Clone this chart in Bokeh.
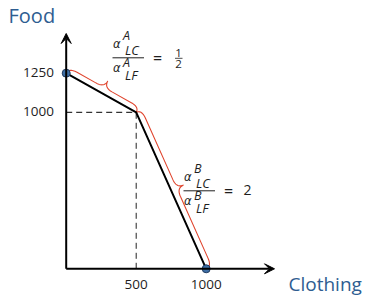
import numpy as np
from bokeh.plotting import figure
from bokeh.models import Range1d, Arrow, VeeHead, Label
from bokeh.embed import file_html
from bokeh.resources import INLINE

# ---------------- data ----------------
clothing = [0, 500, 1000]          # production possibility frontier, x values
food = [1250, 1000, 0]             # production possibility frontier, y values
kink_x = clothing[1]
kink_y = food[1]
endpoint_x = [clothing[0], clothing[-1]]
endpoint_y = [food[0], food[-1]]
x_ticks = [500, 1000]
x_tick_labels = ["500", "1000"]
y_ticks = [1000, 1250]
y_tick_labels = ["1000", "1250"]
x_label = "Clothing"
y_label = "Food"
country_a = "A"
country_b = "B"
ratio_a = ("1", "2")               # alpha_LC / alpha_LF for A = 1/2
ratio_b = "2"                      # alpha_LC / alpha_LF for B = 2

# ---------------- layout ----------------
W, H, OFF = 367, 297, 0
X0, SX = 65.7, 0.14        # page px of x=0, px per unit
Y0, SY = 268.3, 0.1565     # page px of y=0, px per unit
FONT = "Open Sans"
BLUE = "#2e5d91"
RED = "#e0452e"
TXT = "#1e1e1e"
BASE_FIX = 0.4             # empirical correction of label baseline (em)


def d2p(x, y):
    return X0 + SX * x, Y0 - SY * y


def p2d(px, py):
    return (px - X0) / SX, (Y0 - py) / SY


p = figure(width=W, height=H,
           x_range=Range1d(p2d(OFF, 0)[0], p2d(OFF + W, 0)[0]),
           y_range=Range1d(p2d(0, OFF + H)[1], p2d(0, OFF)[1]),
           output_backend="svg", toolbar_location=None,
           x_axis_location=None, y_axis_location=None,
           min_border=0, outline_line_color=None,
           background_fill_color="white", border_fill_color="white")
p.grid.visible = False


def label(text, px, py, size, align="left", color=TXT, style="normal", font=FONT):
    x, y = p2d(px, py - BASE_FIX * size)
    p.add_layout(Label(x=x, y=y, text=text, text_font=font,
                       text_font_size=f"{size}px", text_align=align,
                       text_baseline="alphabetic", text_color=color,
                       text_font_style=style))


# dashed guide lines to the kink
p.segment(x0=[0], y0=[kink_y], x1=[kink_x], y1=[kink_y],
          line_color="#333333", line_width=1.2, line_dash="6 4")
p.segment(x0=[kink_x], y0=[0], x1=[kink_x], y1=[kink_y],
          line_color="#222222", line_width=1, line_dash="6 4")

# axes with arrow heads
x_tip = p2d(274, 0)[0]
y_tip = p2d(0, 33)[1]
p.add_layout(Arrow(end=VeeHead(size=10, fill_color="black", line_color="black", line_width=1),
                   x_start=0, y_start=0, x_end=x_tip, y_end=0,
                   line_width=2, line_color="black"))
p.add_layout(Arrow(end=VeeHead(size=10, fill_color="black", line_color="black", line_width=1),
                   x_start=0, y_start=0, x_end=0, y_end=y_tip,
                   line_width=2, line_color="black"))


# curly braces along the two segments
def qbez(a, b, c, n=16):
    t = np.linspace(0, 1, n)
    a, b, c = map(np.asarray, (a, b, c))
    return ((1 - t) ** 2)[:, None] * a + (2 * (1 - t) * t)[:, None] * b + (t ** 2)[:, None] * c


def brace(xa, ya, xb, yb, w=6.0, tip=13.5, a=9.0):
    pa, qa = d2p(xa, ya)
    pb, qb = d2p(xb, yb)
    dx, dy = pb - pa, qb - qa
    L = np.hypot(dx, dy)
    ux, uy = dx / L, dy / L
    nx, ny = uy, -ux
    m = L / 2
    pts = np.vstack([
        qbez((0, 0), (0, w), (a, w)),
        qbez((m - a, w), (m, w), (m, tip)),
        qbez((m, tip), (m, w), (m + a, w)),
        qbez((L - a, w), (L, w), (L, 0)),
    ])
    s, h = pts[:, 0], pts[:, 1]
    px = pa + s * ux + h * nx
    py = qa + s * uy + h * ny
    return (px - X0) / SX, (Y0 - py) / SY


for i in range(len(clothing) - 1):
    bx, by = brace(clothing[i], food[i], clothing[i + 1], food[i + 1])
    p.line(bx, by, line_color=RED, line_width=1.1)

# frontier
p.line(clothing, food, line_color="black", line_width=2)
p.scatter(endpoint_x, endpoint_y, size=8, fill_color="#3f6fa6",
          line_color="#1f3a5f", line_width=1)

# tick labels
for v, t in zip(y_ticks, y_tick_labels):
    label(t, 53.5, d2p(0, v)[1] + 5, 13.5, align="right")
for v, t in zip(x_ticks, x_tick_labels):
    label(t, d2p(v, 0)[0], 289, 13.5, align="center")

# axis titles
label(y_label, 8, 22.7, 20, color=BLUE)
label(x_label, 288, 291.5, 19, color=BLUE)


# ratio fractions
def ratio(country, bl, by):
    label("α", bl + 0.5, by - 8.8, 11.5, style="italic", font="DejaVu Sans")
    label(country, bl + 10.5, by - 17.8, 12.5, style="italic")
    label("LC", bl + 12.5, by - 2.2, 13, style="italic")
    x0, y0 = p2d(bl, by)
    x1, _ = p2d(bl + 31.5, by)
    p.segment(x0=[x0], y0=[y0], x1=[x1], y1=[y0], line_color=TXT, line_width=1)
    label(country, bl + 10.5, by + 9.8, 12.5, style="italic")
    label("α", bl + 0.5, by + 15.2, 11.5, style="italic", font="DejaVu Sans")
    label("LF", bl + 12.5, by + 22.4, 13, style="italic")
    label("=", bl + 40.5, by + 6.3, 16)
    return bl + 41.5


eq_a = ratio(country_a, 112, 57.3)
label(ratio_a[0], eq_a + 24.5, 56.7, 11.5, align="center")
fx0, fy0 = p2d(eq_a + 21, 57.8)
fx1, _ = p2d(eq_a + 28.5, 57.8)
p.segment(x0=[fx0], y0=[fy0], x1=[fx1], y1=[fy0], line_color=TXT, line_width=0.8)
label(ratio_a[1], eq_a + 24.5, 68.3, 11.5, align="center")

eq_b = ratio(country_b, 183, 190.3)
label(ratio_b, eq_b + 18.5, 194.7, 14)

open("out.html", "w").write(file_html(p, INLINE))
